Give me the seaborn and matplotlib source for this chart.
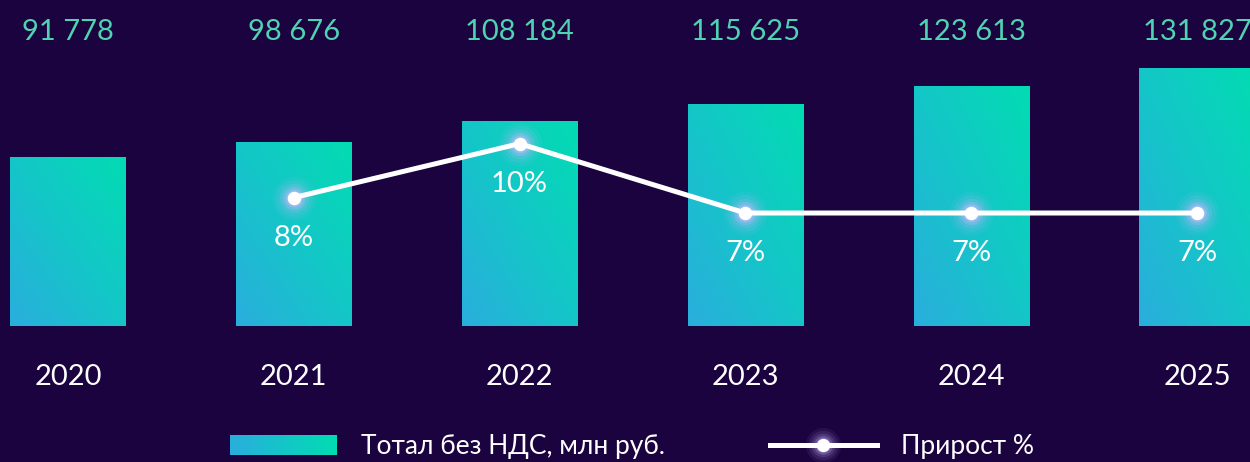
import numpy as np
import pandas as pd
import seaborn as sns
import matplotlib
matplotlib.use("Agg")
import matplotlib.pyplot as plt
from matplotlib.colors import LinearSegmentedColormap
from matplotlib.legend_handler import HandlerBase, HandlerTuple
from matplotlib.image import BboxImage
from matplotlib.transforms import Bbox, TransformedBbox
from matplotlib.lines import Line2D

# данные
years = ["2020", "2021", "2022", "2023", "2024", "2025"]
totals = [91778, 98676, 108184, 115625, 123613, 131827]
growth_years = ["2021", "2022", "2023", "2024", "2025"]
growth = [7.5, 9.6, 6.9, 6.9, 6.9]
growth_labels = ["8%", "10%", "7%", "7%", "7%"]

bg = "#1b0340"
teal_txt = "#4fd3b0"
glow_c = "#cdb8ff"
cmap = LinearSegmentedColormap.from_list("grad", ["#2aaedd", "#14c6c8", "#02dcb2"])

plt.rcParams["font.family"] = ["Lato", "Roboto", "DejaVu Sans"]

df = pd.DataFrame({"year": years, "total": totals})

fig = plt.figure(figsize=(12.5, 4.62), dpi=100, facecolor=bg)
ax = fig.add_axes([0, 136 / 462, 1, 326 / 462])
ax.set_facecolor(bg)

sns.barplot(data=df, x="year", y="total", ax=ax, width=0.51,
            color="#14c6c8", saturation=1, edgecolor="none")

ybase, ytop = 15728, 162428

# градиент в столбцах
gx, gy = np.meshgrid(np.linspace(0, 1, 64), np.linspace(0, 1, 64))
grad = (gx + gy) / 2
for p in ax.patches:
    x0, w, h = p.get_x(), p.get_width(), p.get_height()
    im = ax.imshow(grad, extent=[x0, x0 + w, ybase, h], origin="lower",
                   cmap=cmap, aspect="auto", interpolation="bilinear",
                   zorder=p.get_zorder() + 0.1)
    im.set_clip_path(p)

# подписи значений и годов
for i, (yr, v) in enumerate(zip(years, totals)):
    ax.annotate(f"{v:,}".replace(",", " "), (i, 1), xycoords=("data", "axes fraction"),
                xytext=(0, -23), textcoords="offset points", ha="center", va="center",
                color=teal_txt, fontsize=21)
    ax.annotate(yr, (i, 0), xycoords=("data", "axes fraction"),
                xytext=(0, -37), textcoords="offset points", ha="center", va="center",
                color="white", fontsize=21)

# линия прироста
ax2 = ax.twinx()
pos = [years.index(y) for y in growth_years]
sns.lineplot(x=pos, y=growth, ax=ax2, color="white", linewidth=3.6, zorder=3)
glow = [(1000, 0.07), (700, 0.1), (450, 0.15), (280, 0.25), (170, 0.4)]
for s, a in glow:
    ax2.scatter(pos, growth, s=s, color=glow_c, alpha=a, linewidths=0, zorder=2)
ax2.scatter(pos, growth, s=95, color="white", linewidths=0, zorder=4)
for x, y, lbl in zip(pos, growth, growth_labels):
    ax2.annotate(lbl, (x, y), xytext=(0, -29), textcoords="offset points",
                 ha="center", va="center", color="white", fontsize=21)

for a_ in (ax, ax2):
    a_.set_axis_off()
ax.set_xlim(-68 / 225.8, (1250 - 68) / 225.8)
ax.set_ylim(ybase, ytop)
ax2.set_ylim(2.503, 15.19)


# легенда
class GradPatch:
    pass


class GradHandler(HandlerBase):
    def create_artists(self, legend, orig_handle, xdescent, ydescent,
                       width, height, fontsize, trans):
        bb = TransformedBbox(Bbox.from_bounds(-xdescent, -ydescent, width, height), trans)
        img = BboxImage(bb, cmap=cmap, interpolation="bilinear", origin="lower")
        img.set_data(np.tile(np.linspace(0, 1, 64), (8, 1)))
        return [img]


line_handle = tuple(
    [Line2D([], [], ls="none", marker="o", ms=np.sqrt(s) * 0.8, mfc=glow_c,
            mec="none", alpha=a) for s, a in glow]
    + [Line2D([], [], color="white", lw=3.6, marker="o", ms=9.5, mfc="white", mec="none")]
)

fig.legend([GradPatch(), line_handle],
           ["Тотал без НДС, млн руб.", "Прирост %"],
           handler_map={GradPatch: GradHandler(), tuple: HandlerTuple(ndivide=1, pad=0)},
           loc="center", bbox_to_anchor=(0.5056, 0.0325), ncol=2, frameon=False,
           fontsize=19, labelcolor="white", handlelength=4.05, handleheight=0.76,
           handletextpad=0.91, columnspacing=3.98, borderpad=0, borderaxespad=0)

fig.savefig("out.png", dpi=100, facecolor=bg)
